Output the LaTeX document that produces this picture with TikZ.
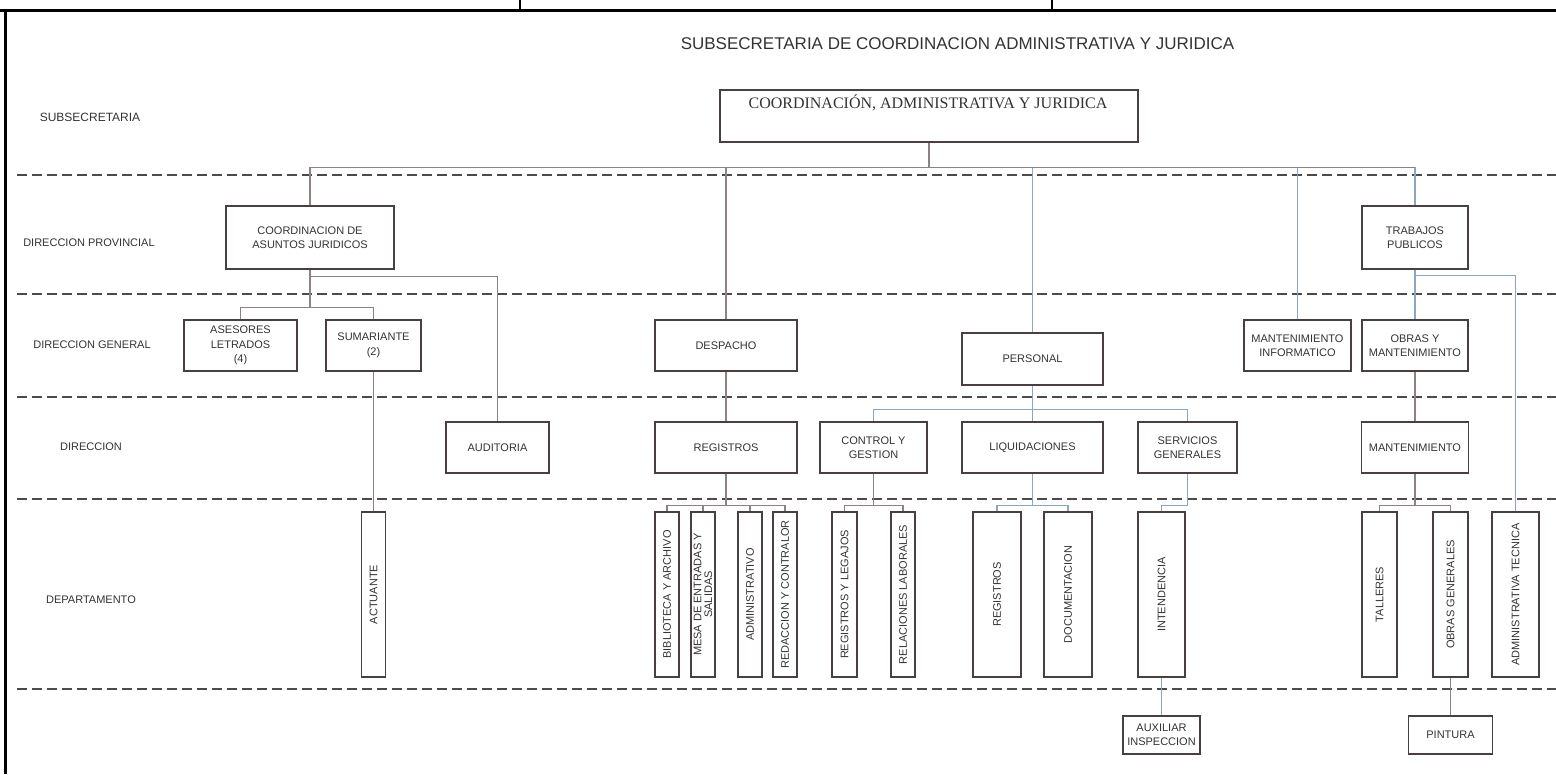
\documentclass[tikz,border=0pt]{standalone}
\usepackage{fontspec}
\setmainfont{Liberation Sans}
\newfontfamily\boxserif{Liberation Serif}
\usepackage{xcolor}
\definecolor{orgLine}{HTML}{4A3F3F}
\definecolor{orgGray}{HTML}{8C8282}
\definecolor{orgBlue}{HTML}{8DA6C0}
\definecolor{orgDash}{HTML}{4F4A4A}
\definecolor{orgText}{HTML}{333333}
\newcommand{\vlabel}[1]{\rotatebox{90}{#1}}

\begin{document}
\begin{tikzpicture}[x=1pt,y=-1pt,
  unitBox/.style={draw=orgLine, line width=1.6pt, inner sep=0pt, align=center, text=orgText, font=\fontsize{11}{14.5}\selectfont, minimum height=51pt},
  deptBox/.style={unitBox, minimum height=165pt, font=\fontsize{11}{11}\selectfont},
  levelText/.style={text=orgText, font=\fontsize{11}{13}\selectfont},
  levelLine/.style={draw=orgDash, line width=1.8pt, dash pattern=on 10pt off 5pt},
  linkGray/.style={draw=orgGray, line width=1.2pt},
  linkBlue/.style={draw=orgBlue, line width=1.2pt}]
  \useasboundingbox (0,0) rectangle (1556,774);

  \draw[line width=3pt] (0,10) -- (1556,10);
  \draw[line width=1.2pt] (520,0) -- (520,10);
  \draw[line width=1.2pt] (1052,0) -- (1052,10);
  \draw[line width=3pt] (5,10) -- (5,774);

  \draw[levelLine] (17,175) -- (1556,175);
  \draw[levelLine] (17,294) -- (1556,294);
  \draw[levelLine] (17,397) -- (1556,397);
  \draw[levelLine] (17,499) -- (1556,499);
  \draw[levelLine] (17,689) -- (1556,689);

  \node[text=orgText, font=\fontsize{17}{19}\selectfont] (title) at (957.5,44) {SUBSECRETARIA DE COORDINACION ADMINISTRATIVA Y JURIDICA};

  \node[levelText, font=\fontsize{12}{14}\selectfont] (lvSubsec) at (90,117) {SUBSECRETARIA};
  \node[levelText] (lvProv) at (89,243) {DIRECCION PROVINCIAL};
  \node[levelText] (lvGeneral) at (92,345) {DIRECCION GENERAL};
  \node[levelText] (lvDir) at (91,447) {DIRECCION};
  \node[levelText] (lvDepto) at (91,600) {DEPARTAMENTO};

  \node[unitBox, minimum width=418pt, minimum height=52pt] (subsec) at (929,116) {};
  \node[text=orgText, font=\boxserif\fontsize{16}{18}\selectfont] (subsecName) at (928,103) {COORDINACIÓN, ADMINISTRATIVA Y JURIDICA};

  \node[unitBox, minimum width=168pt, minimum height=63pt] (asuntos) at (310,237.5) {COORDINACION DE\\ASUNTOS JURIDICOS};
  \node[unitBox, minimum width=106pt, minimum height=63pt] (trabajos) at (1415,237.5) {TRABAJOS\\PUBLICOS};

  \node[unitBox, minimum width=113pt] (asesores) at (240.5,345.5) {ASESORES\\LETRADOS\\(4)};
  \node[unitBox, minimum width=95pt] (sumariante) at (373.5,345.5) {SUMARIANTE\\(2)};
  \node[unitBox, minimum width=142pt] (despacho) at (726,345.5) {DESPACHO};
  \node[unitBox, minimum width=141pt, minimum height=52pt] (personal) at (1032.5,359) {PERSONAL};
  \node[unitBox, minimum width=107pt] (mantInfo) at (1297.5,345.5) {MANTENIMIENTO\\INFORMATICO};
  \node[unitBox, minimum width=106pt] (obrasMant) at (1415,345.5) {OBRAS Y\\MANTENIMIENTO};

  \node[unitBox, minimum width=103pt] (auditoria) at (497.5,447.5) {AUDITORIA};
  \node[unitBox, minimum width=142pt] (registros) at (726,447.5) {REGISTROS};
  \node[unitBox, minimum width=107pt] (control) at (873.5,447.5) {CONTROL Y\\GESTION};
  \node[unitBox, minimum width=141pt] (liquidaciones) at (1032.5,447.5) {LIQUIDACIONES};
  \node[unitBox, minimum width=99pt] (servicios) at (1187.5,447.5) {SERVICIOS\\GENERALES};
  \node[unitBox, minimum width=107pt] (mantenimiento) at (1415,447.5) {MANTENIMIENTO};

  \node[deptBox, minimum width=24pt] (actuante) at (373.5,594.5) {\vlabel{ACTUANTE}};
  \node[deptBox, minimum width=24pt] (biblioteca) at (667,594.5) {\vlabel{BIBLIOTECA Y ARCHIVO}};
  \node[deptBox, minimum width=24pt] (mesa) at (703,594.5) {\vlabel{\shortstack{MESA DE ENTRADAS Y\\SALIDAS}}};
  \node[deptBox, minimum width=24pt] (administrativo) at (750,594.5) {\vlabel{ADMINISTRATIVO}};
  \node[deptBox, minimum width=24pt] (redaccion) at (785,594.5) {\vlabel{REDACCION Y CONTRALOR}};
  \node[deptBox, minimum width=25pt] (legajos) at (844.5,594.5) {\vlabel{REGISTROS Y LEGAJOS}};
  \node[deptBox, minimum width=24pt] (laborales) at (903,594.5) {\vlabel{RELACIONES LABORALES}};
  \node[deptBox, minimum width=48pt] (regPersonal) at (997,594.5) {\vlabel{REGISTROS}};
  \node[deptBox, minimum width=48pt] (documentacion) at (1068,594.5) {\vlabel{DOCUMENTACION}};
  \node[deptBox, minimum width=47pt] (intendencia) at (1161.5,594.5) {\vlabel{INTENDENCIA}};
  \node[deptBox, minimum width=35pt] (talleres) at (1379.5,594.5) {\vlabel{TALLERES}};
  \node[deptBox, minimum width=35pt] (obrasGen) at (1450.5,594.5) {\vlabel{OBRAS GENERALES}};
  \node[deptBox, minimum width=47pt] (adminTec) at (1515.5,594.5) {\vlabel{ADMINISTRATIVA TECNICA}};

  \node[unitBox, minimum width=77pt, minimum height=38pt] (auxiliar) at (1161.5,735) {AUXILIAR\\INSPECCION};
  \node[unitBox, minimum width=84pt, minimum height=38pt] (pintura) at (1450.5,735) {PINTURA};

  \path (subsec.south) ++(0,25) coordinate (topBus);
  \draw[linkBlue] (subsec.south) -- ++(0,25) -| (personal.north);
  \draw[linkBlue] (subsec.south) -- ++(0,25) -| (mantInfo.north);
  \draw[linkBlue] (subsec.south) -- ++(0,25) -| (trabajos.north);
  \draw[linkGray] (subsec.south) -- ++(0,25) -| (asuntos.north);
  \draw[linkGray] (subsec.south) -- ++(0,25) -| (despacho.north);
  \draw[linkGray] (topBus -| asuntos.north) -- (topBus -| trabajos.north);

  \draw[linkGray] (asuntos.south) -- ++(0,7) -| (auditoria.north);
  \draw[linkGray] (asuntos.south) -- ++(0,38) -| (asesores.north);
  \draw[linkGray] (asuntos.south) -- ++(0,38) -| (sumariante.north);
  \draw[linkGray] (sumariante.south) -- (actuante.north);

  \draw[linkGray] (despacho.south) -- (registros.north);
  \draw[linkGray] (registros.south) -- ++(0,32) -| (biblioteca.north);
  \draw[linkGray] (registros.south) -- ++(0,32) -| (mesa.north);
  \draw[linkGray] (registros.south) -- ++(0,32) -| (administrativo.north);
  \draw[linkGray] (registros.south) -- ++(0,32) -| (redaccion.north);

  \draw[linkBlue] (personal.south) -- ++(0,24) -| (control.north);
  \draw[linkBlue] (personal.south) -- ++(0,24) -| (servicios.north);
  \draw[linkBlue] (personal.south) -- (liquidaciones.north);
  \draw[linkGray] (control.south) -- ++(0,32) -| (legajos.north);
  \draw[linkGray] (control.south) -- ++(0,32) -| (laborales.north);
  \draw[linkBlue] (liquidaciones.south) -- ++(0,32) -| (regPersonal.north);
  \draw[linkBlue] (liquidaciones.south) -- ++(0,32) -| (documentacion.north);
  \draw[linkBlue] (servicios.south) -- ++(0,32) -| (intendencia.north);
  \draw[linkBlue] (intendencia.south) -- (auxiliar.north);

  \draw[linkBlue] (trabajos.south) -- ++(0,6) -| (adminTec.north);
  \draw[linkBlue] (trabajos.south) -- (obrasMant.north);
  \draw[linkGray] (obrasMant.south) -- (mantenimiento.north);
  \draw[linkGray] (mantenimiento.south) -- ++(0,32) -| (talleres.north);
  \draw[linkGray] (mantenimiento.south) -- ++(0,32) -| (obrasGen.north);
  \draw[linkGray] (obrasGen.south) -- (pintura.north);
\end{tikzpicture}
\end{document}
